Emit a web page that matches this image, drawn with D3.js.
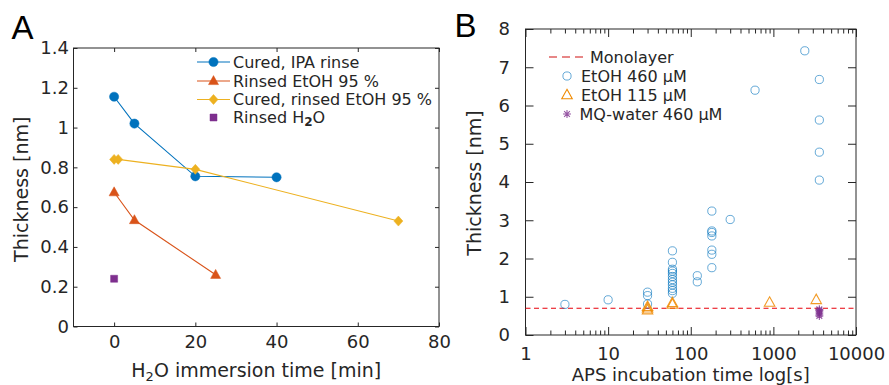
<!DOCTYPE html>
<html><head><meta charset="utf-8">
<script src="https://cdn.jsdelivr.net/npm/d3@7"></script>
<style>
body{margin:0;background:#fff}
svg{display:block}
text{font-family:"DejaVu Sans",Verdana,sans-serif;fill:#262626}
</style>
</head><body>
<svg id="c" width="889" height="385"></svg>
<script>
// ---------- Panel A data ----------
const curedIPA_t = [0, 5, 20, 40];
const curedIPA_v = [1.155, 1.02, 0.755, 0.75];
const rinsedEtOH_t = [0, 5, 25];
const rinsedEtOH_v = [0.675, 0.535, 0.26];
const curedEtOH_t = [0, 1, 20, 70];
const curedEtOH_v = [0.84, 0.84, 0.79, 0.53];
const rinsedH2O_t = [0];
const rinsedH2O_v = [0.24];
const aXTicks = [0, 20, 40, 60, 80];
const aYTicks = [0, 0.2, 0.4, 0.6, 0.8, 1, 1.2, 1.4];
const aYLabels = ["0", "0.2", "0.4", "0.6", "0.8", "1", "1.2", "1.4"];
const aLegend = ["Cured, IPA rinse", "Rinsed EtOH 95 %", "Cured, rinsed EtOH 95 %", "Rinsed H2O"];

// ---------- Panel B data ----------
const etoh460_t = [3, 10, 30, 30, 30, 60, 60, 60, 60, 60, 60, 60, 60, 60, 60, 60, 60,
  120, 120, 180, 180, 180, 180, 180, 180, 180, 300, 600, 2400, 3600, 3600, 3600, 3600];
const etoh460_v = [0.80, 0.92, 1.12, 1.03, 0.81, 2.2, 1.9, 1.72, 1.67, 1.61, 1.53, 1.45, 1.38, 1.31, 1.22, 1.16, 1.09,
  1.55, 1.39, 3.24, 2.72, 2.68, 2.59, 2.22, 2.11, 1.76, 3.02, 6.40, 7.43, 6.68, 5.62, 4.78, 4.05];
const etoh115_t = [30, 30, 30, 60, 60, 900, 3300];
const etoh115_v = [0.65, 0.70, 0.74, 0.80, 0.84, 0.85, 0.92];
const mq460_t = [3600, 3600, 3600, 3600, 3600];
const mq460_v = [0.50, 0.55, 0.60, 0.64, 0.67];
const monolayer = 0.70;
const bXTicks = [1, 10, 100, 1000, 10000];
const bYTicks = [0, 1, 2, 3, 4, 5, 6, 7, 8];
const bLegend = ["Monolayer", "EtOH 460 \u03bcM", "EtOH 115 \u03bcM", "MQ-water 460 \u03bcM"];

// ---------- colours ----------
const cBlue = "#0072BD", cRed = "#D95319", cYel = "#EDB120", cPur = "#7E2F8E";
const cOrange = "#F08A00", cMono = "#E8000B", axCol = "#262626";

const svg = d3.select("#c");

// marker shapes (relative paths)
function circ(r){ return `M${-r},0A${r},${r} 0 1,0 ${r},0A${r},${r} 0 1,0 ${-r},0Z`; }
function tri(s){ const h = s*0.9; return `M0,${-h*0.6}L${s/2},${h*0.4}L${-s/2},${h*0.4}Z`; }
function diam(s){ return `M0,${-s/2}L${s*0.45},0L0,${s/2}L${-s*0.45},0Z`; }
function sq(s){ return `M${-s/2},${-s/2}h${s}v${s}h${-s}Z`; }
function star(s){ const a = s/2, d = a*0.72; return `M${-a},0H${a}M0,${-a}V${a}M${-d},${-d}L${d},${d}M${-d},${d}L${d},${-d}`; }

// ================= PANEL A =================
const A = {l: 73.5, r: 439, t: 48, b: 326.5};
const xA = d3.scaleLinear().domain([-10, 80]).range([A.l, A.r]);
const yA = d3.scaleLinear().domain([0, 1.4]).range([A.b, A.t]);
const gA = svg.append("g");

function styleAxis(g){
  g.select(".domain").remove();
  g.selectAll("line").attr("stroke", axCol).attr("stroke-width", 1);
  g.selectAll("text").attr("fill", axCol);
}
gA.append("g").attr("transform", `translate(0,${A.b})`)
  .call(d3.axisBottom(xA).tickValues(aXTicks).tickSize(-4).tickPadding(8.5).tickFormat(d3.format("d")))
  .call(styleAxis).selectAll("text").style("font-size", "18px").style("font-family", "DejaVu Sans");
gA.append("g").attr("transform", `translate(0,${A.t})`)
  .call(d3.axisTop(xA).tickValues(aXTicks).tickSize(-4).tickFormat(""))
  .call(styleAxis);
gA.append("g").attr("transform", `translate(${A.l},0)`)
  .call(d3.axisLeft(yA).tickValues(aYTicks).tickSize(-4).tickPadding(4.5).tickFormat((d,i)=>aYLabels[i]))
  .call(styleAxis).selectAll("text").style("font-size", "18px").style("font-family", "DejaVu Sans");
gA.append("g").attr("transform", `translate(${A.r},0)`)
  .call(d3.axisRight(yA).tickValues(aYTicks).tickSize(-4).tickFormat(""))
  .call(styleAxis);
gA.append("rect").attr("x", A.l).attr("y", A.t).attr("width", A.r - A.l).attr("height", A.b - A.t)
  .attr("fill", "none").attr("stroke", axCol).attr("stroke-width", 1);

const lineA = d3.line().x(d => xA(d[0])).y(d => yA(d[1]));
const seriesA = [
  {t: curedIPA_t, v: curedIPA_v, c: cBlue, shape: circ(4.6), line: true},
  {t: rinsedEtOH_t, v: rinsedEtOH_v, c: cRed, shape: tri(10), line: true},
  {t: curedEtOH_t, v: curedEtOH_v, c: cYel, shape: diam(10), line: true},
  {t: rinsedH2O_t, v: rinsedH2O_v, c: cPur, shape: sq(7), line: false}
];
seriesA.forEach(s => {
  const pts = s.t.map((t, i) => [t, s.v[i]]);
  if (s.line) gA.append("path").attr("d", lineA(pts)).attr("fill", "none").attr("stroke", s.c).attr("stroke-width", 1.1);
  gA.selectAll(null).data(pts).enter().append("path")
    .attr("transform", d => `translate(${xA(d[0])},${yA(d[1])})`)
    .attr("d", s.shape).attr("fill", s.c).attr("stroke", s.c).attr("stroke-width", 0.5);
});

// legend A
const legA = gA.append("g");
const legAy = [62, 81, 99.5, 117.5];
seriesA.forEach((s, i) => {
  if (s.line) legA.append("line").attr("x1", 197).attr("x2", 230).attr("y1", legAy[i]).attr("y2", legAy[i])
    .attr("stroke", s.c).attr("stroke-width", 1.1);
  legA.append("path").attr("transform", `translate(213.5,${legAy[i]})`).attr("d", s.shape)
    .attr("fill", s.c).attr("stroke", s.c).attr("stroke-width", 0.5);
  const t = legA.append("text").attr("x", 233).attr("y", legAy[i]).attr("dy", "0.36em").style("font-size", "16px");
  if (i === 3) {
    t.append("tspan").text("Rinsed H");
    t.append("tspan").attr("dy", "0.25em").style("font-size", "12px").style("font-weight", "bold").text("2");
    t.append("tspan").attr("dy", "-0.19em").text("O");
  } else t.text(aLegend[i]);
});

// axis labels A
const xlA = gA.append("text").attr("x", (A.l + A.r) / 2 + 0).attr("y", 377).attr("text-anchor", "middle").style("font-size", "19px");
xlA.append("tspan").text("H");
xlA.append("tspan").attr("dy", "0.3em").style("font-size", "13px").text("2");
xlA.append("tspan").attr("dy", "-0.2em").text("O immersion time [min]");
gA.append("text").attr("transform", `translate(28,${(A.t + A.b) / 2 + 2}) rotate(-90)`).attr("text-anchor", "middle")
  .style("font-size", "19px").text("Thickness [nm]");
svg.append("text").attr("x", 11.5).attr("y", 39.3).style("font-family", "'Liberation Sans',Arial,sans-serif")
  .style("font-size", "33px").attr("fill", "#000").style("fill", "#000").text("A");

// ================= PANEL B =================
const B = {l: 525.5, r: 856, t: 29, b: 335};
const xB = d3.scaleLog().domain([1, 10000]).range([B.l, B.r]);
const yB = d3.scaleLinear().domain([0, 8]).range([B.b, B.t]);
const gB = svg.append("g");
const minorB = [];
[1, 10, 100, 1000].forEach(p => { for (let k = 2; k <= 9; k++) minorB.push(p * k); });

gB.append("g").attr("transform", `translate(0,${B.b})`)
  .call(d3.axisBottom(xB).tickValues(bXTicks).tickSize(-8).tickPadding(12.3).tickFormat(d3.format("d")))
  .call(styleAxis).selectAll("text").style("font-size", "18px").style("font-family", "DejaVu Sans");
gB.append("g").attr("transform", `translate(0,${B.b})`)
  .call(d3.axisBottom(xB).tickValues(minorB).tickSize(-4.5).tickFormat(""))
  .call(styleAxis);
gB.append("g").attr("transform", `translate(0,${B.t})`)
  .call(d3.axisTop(xB).tickValues(bXTicks).tickSize(-8).tickFormat(""))
  .call(styleAxis);
gB.append("g").attr("transform", `translate(0,${B.t})`)
  .call(d3.axisTop(xB).tickValues(minorB).tickSize(-4.5).tickFormat(""))
  .call(styleAxis);
gB.append("g").attr("transform", `translate(${B.l},0)`)
  .call(d3.axisLeft(yB).tickValues(bYTicks).tickSize(-8).tickPadding(15.5).tickFormat(d3.format("d")))
  .call(styleAxis).selectAll("text").style("font-size", "18px").style("font-family", "DejaVu Sans");
gB.append("g").attr("transform", `translate(${B.r},0)`)
  .call(d3.axisRight(yB).tickValues(bYTicks).tickSize(-8).tickFormat(""))
  .call(styleAxis);
gB.append("rect").attr("x", B.l).attr("y", B.t).attr("width", B.r - B.l).attr("height", B.b - B.t)
  .attr("fill", "none").attr("stroke", axCol).attr("stroke-width", 1);

// monolayer line
gB.append("line").attr("x1", B.l).attr("x2", B.r).attr("y1", yB(monolayer)).attr("y2", yB(monolayer))
  .attr("stroke", cMono).attr("stroke-width", 1.2).attr("stroke-dasharray", "5,3.5");

// points
const pts460 = etoh460_t.map((t, i) => [t, etoh460_v[i]]);
gB.selectAll(null).data(pts460).enter().append("path")
  .attr("transform", d => `translate(${xB(d[0])},${yB(d[1])})`)
  .attr("d", circ(4.1)).attr("fill", "none").attr("stroke", cBlue).attr("stroke-opacity", 0.6).attr("stroke-width", 1);
const pts115 = etoh115_t.map((t, i) => [t, etoh115_v[i]]);
gB.selectAll(null).data(pts115).enter().append("path")
  .attr("transform", d => `translate(${xB(d[0])},${yB(d[1])})`)
  .attr("d", tri(10.5)).attr("fill", "none").attr("stroke", cOrange).attr("stroke-opacity", 0.85).attr("stroke-width", 1.1);
const ptsMQ = mq460_t.map((t, i) => [t, mq460_v[i]]);
gB.selectAll(null).data(ptsMQ).enter().append("path")
  .attr("transform", d => `translate(${xB(d[0])},${yB(d[1])})`)
  .attr("d", star(8)).attr("fill", "none").attr("stroke", cPur).attr("stroke-opacity", 0.8).attr("stroke-width", 1.1);

// legend B
const legB = gB.append("g");
legB.append("line").attr("x1", 549).attr("x2", 585).attr("y1", 57).attr("y2", 57)
  .attr("stroke", "#E06060").attr("stroke-width", 1.6).attr("stroke-dasharray", "8,5");
legB.append("text").attr("x", 590).attr("y", 57).attr("dy", "0.36em").style("font-size", "16px").text(bLegend[0]);
const legBy = [76, 95, 114];
legB.append("path").attr("transform", `translate(567,${legBy[0]})`).attr("d", circ(4.1))
  .attr("fill", "none").attr("stroke", cBlue).attr("stroke-opacity", 0.6);
legB.append("path").attr("transform", `translate(567,${legBy[1]})`).attr("d", tri(10.5))
  .attr("fill", "none").attr("stroke", cOrange).attr("stroke-width", 1.1);
legB.append("path").attr("transform", `translate(567,${legBy[2]})`).attr("d", star(8))
  .attr("fill", "none").attr("stroke", cPur).attr("stroke-opacity", 0.8).attr("stroke-width", 1.1);
[1, 2, 3].forEach(i => {
  legB.append("text").attr("x", i === 3 ? 579.5 : 581).attr("y", legBy[i - 1]).attr("dy", "0.36em")
    .style("font-size", "16px").text(bLegend[i]);
});

// axis labels B
gB.append("text").attr("x", (B.l + B.r) / 2).attr("y", 380.5).attr("text-anchor", "middle")
  .style("font-size", "18px").text("APS incubation time log[s]");
gB.append("text").attr("transform", `translate(481,${(B.t + B.b) / 2 + 1}) rotate(-90)`).attr("text-anchor", "middle")
  .style("font-size", "19px").text("Thickness [nm]");
svg.append("text").attr("x", 454.5).attr("y", 36.7).style("font-family", "'Liberation Sans',Arial,sans-serif")
  .style("font-size", "33px").style("fill", "#000").text("B");
</script>
</body></html>
